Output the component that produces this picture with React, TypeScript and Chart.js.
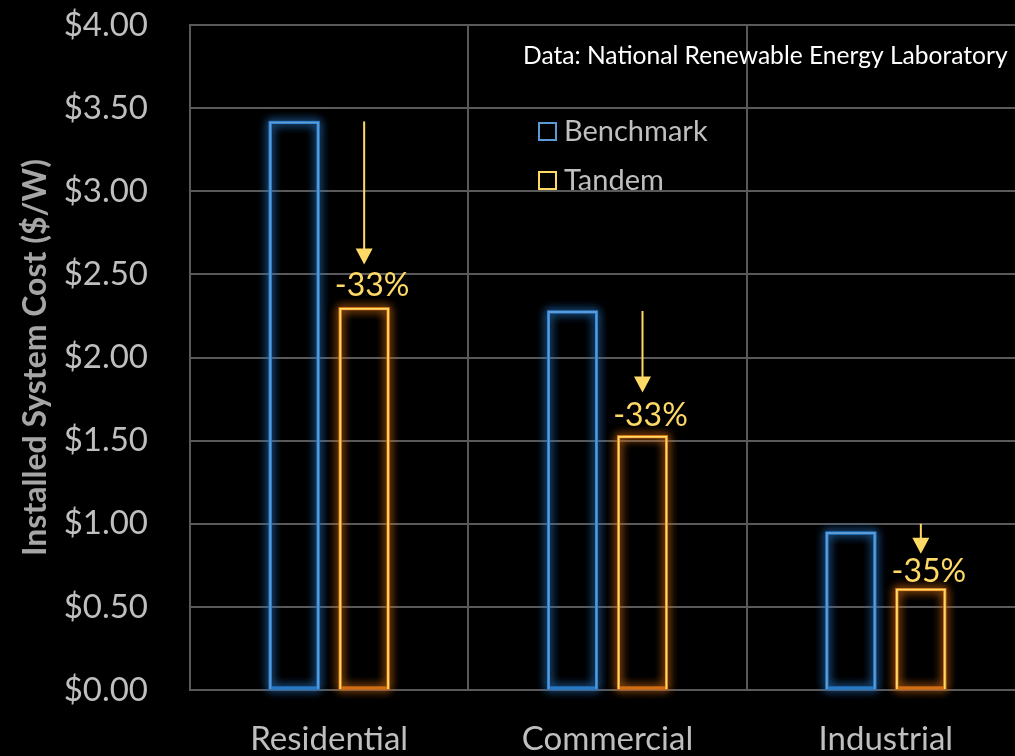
import React, { useEffect, useRef } from "react";
import { Chart, registerables } from "chart.js";

Chart.register(...registerables);

const categories = ["Residential", "Commercial", "Industrial"];
const benchmark = [3.42, 2.28, 0.95];
const tandem = [2.3, 1.53, 0.61];
const changeLabels = ["-33%", "-33%", "-35%"];
const arrowFrom = [3.42, 2.28, 1.0];
const arrowTo = [2.56, 1.79, 0.82];
const labelAt = [2.43, 1.65, 0.71];
const yTicks = [0, 0.5, 1, 1.5, 2, 2.5, 3, 3.5, 4];
const sourceNote = "Data: National Renewable Energy Laboratory";

const FONT = "Lato, 'Open Sans', sans-serif";
const GRID = "#5a5a5a";
const BLUE = "#5b9bd5";
const BLUE_GLOW = "rgba(40,120,200,0.95)";
const YELLOW = "#ffd966";
const ORANGE_GLOW = "rgba(210,110,20,0.95)";

const glowPlugin = {
  id: "glow",
  beforeDatasetsDraw(chart: any) {
    const ctx = chart.ctx;
    chart.data.datasets.forEach((ds: any, i: number) => {
      const meta = chart.getDatasetMeta(i);
      const glow = ds.glowColor;
      meta.data.forEach((bar: any) => {
        const { x, y, base, width } = bar.getProps(["x", "y", "base", "width"], true);
        ctx.save();
        ctx.strokeStyle = glow;
        ctx.lineWidth = 3;
        ctx.shadowColor = glow;
        ctx.shadowBlur = 10;
        for (let k = 0; k < 2; k++) {
          ctx.strokeRect(x - width / 2 + 1, y + 1, width - 2, base - y - 2);
        }
        ctx.restore();
      });
    });
  },
};

const annotPlugin = {
  id: "annot",
  afterDatasetsDraw(chart: any) {
    const ctx = chart.ctx;
    const yScale = chart.scales.y;
    const meta = chart.getDatasetMeta(1);
    meta.data.forEach((bar: any, i: number) => {
      const x = bar.x;
      const y0 = yScale.getPixelForValue(arrowFrom[i]);
      const y1 = yScale.getPixelForValue(arrowTo[i]);
      ctx.save();
      ctx.strokeStyle = YELLOW;
      ctx.fillStyle = YELLOW;
      ctx.lineWidth = 2;
      ctx.beginPath();
      ctx.moveTo(x, y0);
      ctx.lineTo(x, y1 - 14);
      ctx.stroke();
      ctx.beginPath();
      ctx.moveTo(x - 8.5, y1 - 16);
      ctx.lineTo(x + 8.5, y1 - 16);
      ctx.lineTo(x, y1);
      ctx.closePath();
      ctx.fill();
      ctx.font = `32px ${FONT}`;
      ctx.textAlign = "center";
      ctx.textBaseline = "middle";
      ctx.fillText(changeLabels[i], x + 8, yScale.getPixelForValue(labelAt[i]));
      ctx.restore();
    });
  },
  afterDraw(chart: any) {
    const ctx = chart.ctx;
    ctx.save();
    ctx.fillStyle = "#ffffff";
    ctx.font = `24.6px ${FONT}`;
    ctx.textAlign = "left";
    ctx.textBaseline = "middle";
    ctx.fillText(sourceNote, 523, 56);
    const items = chart.data.datasets;
    items.forEach((ds: any, i: number) => {
      const cy = 131 + i * 49;
      ctx.strokeStyle = ds.borderColor;
      ctx.lineWidth = 2;
      ctx.strokeRect(539, cy - 8, 17, 17);
      ctx.fillStyle = "#bfbfbf";
      ctx.font = `29px ${FONT}`;
      ctx.fillText(ds.label, 564, cy + 1);
    });
    ctx.restore();
  },
};

export default function App() {
  const ref = useRef<HTMLCanvasElement>(null);
  useEffect(() => {
    if (!ref.current) return;
    const chart = new Chart(ref.current, {
      type: "bar",
      data: {
        labels: categories,
        datasets: [
          {
            label: "Benchmark",
            data: benchmark,
            backgroundColor: "rgba(0,0,0,0)",
            borderColor: BLUE,
            borderWidth: 2,
            glowColor: BLUE_GLOW,
            barPercentage: 0.714,
            categoryPercentage: 0.503,
          } as any,
          {
            label: "Tandem",
            data: tandem,
            backgroundColor: "rgba(0,0,0,0)",
            borderColor: YELLOW,
            borderWidth: 2,
            glowColor: ORANGE_GLOW,
            barPercentage: 0.714,
            categoryPercentage: 0.503,
          } as any,
        ],
      },
      options: {
        responsive: false,
        animation: false,
        layout: { padding: { top: 25, right: 15, left: 0, bottom: 0 } },
        plugins: { legend: { display: false }, tooltip: { enabled: false } },
        scales: {
          x: {
            grid: { color: GRID, lineWidth: 2, drawTicks: false, offset: true },
            border: { color: GRID, width: 2 },
            ticks: { color: "#bfbfbf", font: { family: FONT, size: 33 }, padding: 30 },
            afterFit: (s: any) => {
              s.height = 66;
            },
          },
          y: {
            min: 0,
            max: 4,
            afterBuildTicks: (s: any) => {
              s.ticks = yTicks.map((v) => ({ value: v }));
            },
            grid: {
              color: GRID,
              lineWidth: 2,
              drawTicks: true,
              tickLength: 42,
              tickColor: "rgba(0,0,0,0)",
            },
            border: { color: GRID, width: 2 },
            ticks: {
              color: "#bfbfbf",
              font: { family: FONT, size: 33 },
              padding: 0,
              callback: (v: any) => "$" + Number(v).toFixed(2),
            },
            title: {
              display: true,
              text: "Installed System Cost ($/W)",
              color: "#a6a6a6",
              font: { family: FONT, size: 32, weight: "bold" },
              padding: { top: 16, bottom: 0 },
            },
            afterFit: (s: any) => {
              s.width = 190;
            },
          },
        },
      },
      plugins: [glowPlugin, annotPlugin],
    });
    return () => chart.destroy();
  }, []);
  return (
    <div
      style={{
        position: "absolute",
        left: 0,
        top: 0,
        width: 1015,
        height: 756,
        overflow: "hidden",
        background: "#000",
      }}
    >
      <canvas ref={ref} width={1040} height={756} style={{ display: "block" }} />
    </div>
  );
}
